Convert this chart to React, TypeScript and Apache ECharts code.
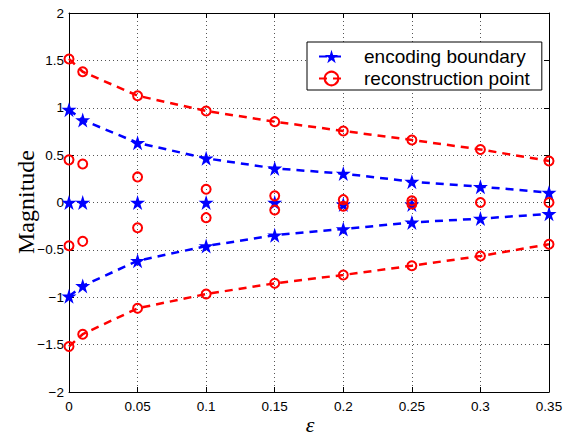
import React, { useEffect, useRef } from 'react';
import * as echarts from 'echarts';

// x values (epsilon)
const eps = [0, 0.01, 0.05, 0.1, 0.15, 0.2, 0.25, 0.3, 0.35];
// encoding boundaries
const boundaryUpper = [0.98, 0.87, 0.63, 0.466, 0.36, 0.305, 0.22, 0.167, 0.104];
const boundaryLower = [-0.99, -0.88, -0.615, -0.46, -0.345, -0.28, -0.21, -0.17, -0.12];
const boundaryMiddle = [0, 0, 0, 0, 0, -0.02, -0.02, null, null];
// reconstruction points
const reconUpper = [1.515, 1.38, 1.127, 0.966, 0.853, 0.755, 0.66, 0.56, 0.438];
const reconLower = [-1.52, -1.39, -1.117, -0.966, -0.853, -0.765, -0.667, -0.565, -0.44];
const reconInnerUpper = [0.45, 0.406, 0.27, 0.14, 0.07, 0.03, 0.018, 0, 0];
const reconInnerLower = [-0.456, -0.41, -0.266, -0.16, -0.08, -0.04, -0.016, null, null];

const xMin = 0;
const xMax = 0.35;
const xStep = 0.05;
const yMin = -2;
const yMax = 2;
const yStep = 0.5;

const STAR =
  'path://M50,0 L61.2,34.5 L97.6,34.5 L68.2,55.9 L79.4,90.5 L50,69.1 L20.6,90.5 L31.8,55.9 L2.4,34.5 L38.8,34.5 Z';

const pairs = (ys: (number | null)[]) =>
  eps
    .map((x, i) => (ys[i] === null ? null : [x, ys[i] as number]))
    .filter((p) => p !== null) as number[][];

const BLUE = '#0000ff';
const RED = '#ff0000';
const SANS = 'Liberation Sans, Arial, Helvetica, sans-serif';
const SERIF = 'Liberation Serif, Times New Roman, serif';

export default function App() {
  const ref = useRef<HTMLDivElement>(null);
  useEffect(() => {
    if (!ref.current) return;
    const chart = echarts.init(ref.current, undefined, { renderer: 'svg' });

    const dashed = (color: string) => ({
      color,
      width: 2.5,
      type: [8, 6] as any,
    });

    const starSeries = (data: number[][], withLine: boolean) => ({
      name: 'encoding boundary',
      type: 'line',
      data,
      symbol: STAR,
      symbolSize: 15,
      itemStyle: { color: BLUE },
      lineStyle: withLine ? dashed(BLUE) : { width: 0, color: BLUE },
      z: 3,
    });

    const circleSeries = (data: number[][], withLine: boolean) => ({
      name: 'reconstruction point',
      type: 'line',
      data,
      symbol: 'circle',
      symbolSize: 9,
      itemStyle: { color: 'rgba(255,255,255,0)', borderColor: RED, borderWidth: 2 },
      lineStyle: withLine ? dashed(RED) : { width: 0, color: RED },
      z: 4,
    });

    const axisCommon = {
      type: 'value',
      axisLine: { show: true, onZero: false, lineStyle: { color: '#000', width: 1 } },
      axisTick: { show: true, inside: true, length: 5, lineStyle: { color: '#000' } },
    };

    const gridLine = { show: true, lineStyle: { color: '#555', width: 1, type: [1, 3] as any } };

    chart.setOption({
      animation: false,
      backgroundColor: '#fff',
      grid: { left: 69, right: 18, top: 13, bottom: 46, containLabel: false },
      xAxis: [
        {
          ...axisCommon,
          position: 'bottom',
          min: xMin,
          max: xMax,
          interval: xStep,
          axisLabel: { fontFamily: SANS, fontSize: 13.5, color: '#000', margin: 7 },
          splitLine: gridLine,
        },
        {
          ...axisCommon,
          position: 'top',
          min: xMin,
          max: xMax,
          interval: xStep,
          axisLabel: { show: false },
          splitLine: { show: false },
        },
      ],
      yAxis: [
        {
          ...axisCommon,
          position: 'left',
          min: yMin,
          max: yMax,
          interval: yStep,
          axisLabel: {
            fontFamily: SANS,
            fontSize: 13.5,
            color: '#000',
            margin: 5,
            formatter: (v: number) => String(v).replace('-', '\u2212'),
          },
          splitLine: gridLine,
        },
        {
          ...axisCommon,
          position: 'right',
          min: yMin,
          max: yMax,
          interval: yStep,
          axisLabel: { show: false },
          splitLine: { show: false },
        },
      ],
      legend: {
        data: ['encoding boundary', 'reconstruction point'],
        orient: 'vertical',
        left: 307,
        top: 42,
        padding: [5, 12, 2, 11],
        itemGap: 3,
        itemWidth: 25,
        itemHeight: 17,
        borderColor: '#000',
        borderWidth: 1,
        borderRadius: 0,
        backgroundColor: '#fff',
        textStyle: { fontFamily: SANS, fontSize: 19, color: '#000', padding: [0, 0, 0, 15] },
      },
      graphic: [
        {
          type: 'text',
          x: 26,
          y: 202,
          rotation: Math.PI / 2,
          style: {
            text: 'Magnitude',
            fontFamily: SERIF,
            fontSize: 24,
            fill: '#000',
            textAlign: 'center',
            textVerticalAlign: 'middle',
          },
        },
        {
          type: 'text',
          x: 310,
          y: 424,
          style: {
            text: '\u03b5',
            fontFamily: SERIF,
            fontStyle: 'italic',
            fontSize: 22,
            fill: '#000',
            textAlign: 'center',
            textVerticalAlign: 'middle',
          },
        },
      ],
      series: [
        starSeries(pairs(boundaryUpper), true),
        starSeries(pairs(boundaryLower), true),
        starSeries(pairs(boundaryMiddle), false),
        circleSeries(pairs(reconUpper), true),
        circleSeries(pairs(reconLower), true),
        circleSeries(pairs(reconInnerUpper), false),
        circleSeries(pairs(reconInnerLower), false),
      ],
    });

    return () => chart.dispose();
  }, []);

  return (
    <div
      ref={ref}
      style={{ position: 'fixed', left: 0, top: 0, width: 567, height: 438, background: '#fff' }}
    />
  );
}
